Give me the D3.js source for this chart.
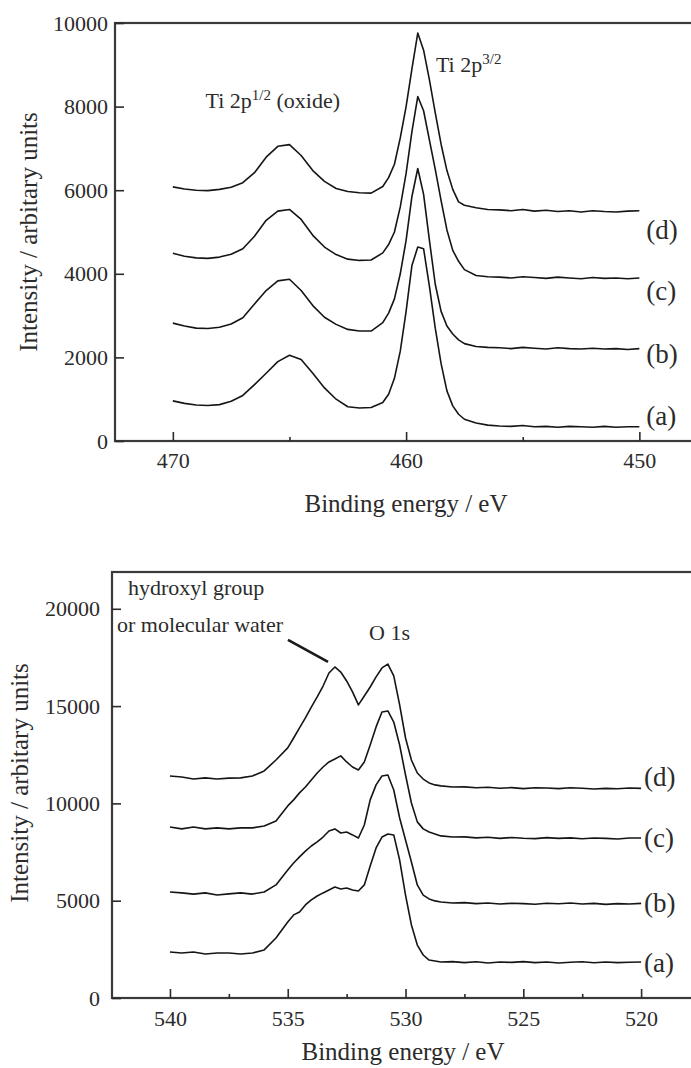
<!DOCTYPE html>
<html>
<head>
<meta charset="utf-8">
<script src="https://cdn.jsdelivr.net/npm/d3@7"></script>
<style>
  body { margin: 0; background: #fff; }
  svg text { font-family: "Liberation Serif", "Times New Roman", serif; fill: #2b2b2b; white-space: pre; }
</style>
</head>
<body>
<svg id="chart" width="691" height="1068"></svg>
<script>
// ---- Ti 2p spectra (top panel) ----
var tiEnergy = [470,469.5,469,468.5,468,467.5,467,466.5,466,465.5,465,464.5,464,463.5,463,462.5,462,461.5,461,
  460.75,460.5,460.25,460,459.75,459.5,459.25,459,458.75,458.5,458.25,458,457.75,457.5,
  457,456.5,456,455.5,455,454.5,454,453.5,453,452.5,452,451.5,451,450.5,450];
var tiA = [960,900,860,850,870,950,1090,1350,1620,1900,2050,1950,1620,1270,1000,820,790,800,920,
  1120,1500,2150,3100,4200,4640,4600,3700,2700,1850,1200,840,640,520,
  430,380,360,350,370,340,350,330,350,340,330,350,330,340,340];
var tiB = [2820,2750,2700,2690,2720,2800,2950,3280,3600,3830,3870,3600,3240,2960,2790,2670,2630,2630,2830,
  3060,3400,4000,4800,5850,6520,5900,4800,3750,3100,2750,2560,2420,2330,
  2260,2240,2230,2210,2240,2220,2200,2230,2210,2200,2220,2200,2210,2190,2210];
var tiC = [4490,4420,4380,4370,4400,4470,4600,4900,5280,5500,5540,5300,4920,4640,4460,4350,4320,4330,4500,
  4700,5000,5600,6400,7400,8240,7900,7200,6500,5750,5050,4560,4300,4100,
  3960,3930,3920,3900,3930,3910,3890,3920,3900,3880,3910,3890,3900,3880,3900];
var tiD = [6080,6030,6000,5990,6020,6070,6180,6420,6790,7050,7090,6830,6470,6210,6040,5970,5940,5930,6090,
  6300,6620,7250,8000,8900,9760,9350,8640,7850,7100,6470,6020,5720,5640,
  5580,5540,5530,5510,5540,5500,5520,5490,5510,5480,5510,5490,5480,5500,5510];
var tiLabelY = [620, 2100, 3610, 5050];
var tiTicksX = [470, 460, 450];
var tiMinorX = [465, 455];
var tiTicksY = [0, 2000, 4000, 6000, 8000, 10000];

// ---- O 1s spectra (bottom panel) ----
var oEnergy = [540,539.5,539,538.5,538,537.5,537,536.5,536,535.5,535,
  534.75,534.5,534.25,534,533.75,533.5,533.25,533,532.75,532.5,532.25,532,531.75,531.5,531.25,531,
  530.75,530.5,530.25,530,529.75,529.5,529.25,529,528.75,528.5,
  528,527.5,527,526.5,526,525.5,525,524.5,524,523.5,523,522.5,522,521.5,521,520.5,520];
var oA = [2360,2310,2360,2260,2310,2310,2260,2310,2470,3080,3910,
  4270,4420,4780,5040,5240,5400,5550,5700,5600,5650,5550,5500,5810,6780,7710,8270,8430,8380,7090,5290,3750,2720,2210,1950,1900,1850,
  1870,1820,1860,1800,1850,1830,1870,1820,1850,1800,1840,1860,1810,1850,1820,1840,1850];
var oB = [5450,5400,5340,5400,5290,5350,5400,5340,5450,5810,6580,
  6940,7250,7550,7810,8020,8270,8580,8690,8480,8530,8380,8220,8890,10180,10950,11410,11460,10690,9250,8120,6990,5810,5290,5090,4990,4930,
  4880,4900,4850,4880,4830,4870,4850,4820,4870,4840,4880,4830,4860,4810,4850,4830,4860];
var oC = [8790,8690,8790,8690,8740,8690,8740,8740,8840,9100,9870,
  10180,10540,10840,11200,11560,11870,12130,12280,12440,12130,11870,11720,12130,13000,13930,14700,14750,14180,13000,11460,10020,9050,8690,8530,8430,8330,
  8270,8280,8230,8260,8200,8250,8210,8190,8240,8200,8230,8180,8220,8200,8170,8220,8220];
var oD = [11410,11360,11250,11310,11250,11300,11310,11410,11670,12230,12850,
  13360,13880,14390,14950,15470,16030,16700,17010,16750,16290,15730,15060,15520,15980,16500,16960,17160,16550,15060,13360,12230,11560,11250,11050,10950,10900,
  10840,10850,10800,10830,10780,10810,10760,10800,10790,10760,10800,10780,10740,10770,10750,10790,10770];
var oLabelY = [1800, 4880, 8270, 11360];
var oTicksX = [540, 535, 530, 525, 520];
var oMinorX = [537.5, 532.5, 527.5, 522.5];
var oTicksY = [0, 5000, 10000, 15000, 20000];

var sampleNames = ["(a)", "(b)", "(c)", "(d)"];

var svg = d3.select("#chart");

function panel(opt) {
    var x = d3.scaleLinear().domain(opt.xDomain).range([opt.left, opt.right]);
    var y = d3.scaleLinear().domain(opt.yDomain).range([opt.bottom, opt.top]);
    var g = svg.append("g");

    // curves
    var line = d3.line()
        .x(function (d) { return x(d[0]); })
        .y(function (d) { return y(d[1]); });

    opt.series.forEach(function (s) {
        var pts = opt.energy.map(function (e, i) { return [e, s[i]]; });
        g.append("path")
            .datum(pts)
            .attr("d", line)
            .style("fill", "none")
            .style("stroke", "#151515")
            .style("stroke-width", 1.6)
            .style("stroke-linejoin", "round");
    });

    // frame
    g.append("rect")
        .attr("x", opt.left)
        .attr("y", opt.top)
        .attr("width", opt.right - opt.left)
        .attr("height", opt.bottom - opt.top)
        .style("fill", "none")
        .style("stroke", "#3a3a3a")
        .style("stroke-width", 2.2);

    function styleAxis(sel, size) {
        sel.select(".domain").remove();
        sel.attr("font-family", "Liberation Serif, Times New Roman, serif").attr("font-size", size);
        sel.selectAll("line").style("stroke", "#2b2b2b").style("stroke-width", 1.6);
        sel.selectAll("text").attr("fill", "#2b2b2b");
    }

    var gx = g.append("g")
        .attr("transform", "translate(0," + opt.bottom + ")")
        .call(d3.axisBottom(x).tickValues(opt.xTicks).tickSizeInner(-9).tickSizeOuter(0)
            .tickPadding(opt.xPad).tickFormat(d3.format("d")));
    styleAxis(gx, 22);

    var gxm = g.append("g")
        .attr("transform", "translate(0," + opt.bottom + ")")
        .call(d3.axisBottom(x).tickValues(opt.xMinor).tickSizeInner(-4).tickSizeOuter(0).tickFormat(""));
    styleAxis(gxm, 22);

    var gy = g.append("g")
        .attr("transform", "translate(" + opt.left + ",0)")
        .call(d3.axisLeft(y).tickValues(opt.yTicks).tickSizeInner(-9).tickSizeOuter(0)
            .tickPadding(opt.yPad).tickFormat(d3.format("d")));
    styleAxis(gy, 22);

    // axis titles
    g.append("text")
        .attr("x", opt.xTitle[0])
        .attr("y", opt.xTitle[1])
        .attr("text-anchor", "middle")
        .style("font-size", "25px")
        .text("Binding energy / eV");

    g.append("text")
        .attr("transform", "translate(" + opt.yTitle[0] + "," + opt.yTitle[1] + ") rotate(-90)")
        .attr("text-anchor", "middle")
        .style("font-size", "25px")
        .text("Intensity / arbitary units");

    // sample labels
    sampleNames.forEach(function (name, i) {
        g.append("text")
            .attr("x", x(opt.labelX))
            .attr("y", y(opt.labelY[i]))
            .attr("dy", "0.35em")
            .style("font-size", "27px")
            .text(name);
    });

    return { g: g, x: x, y: y };
}

// ---- top panel ----
var tiPanel = panel({
    xDomain: [472.48, 447.4], yDomain: [0, 10000],
    left: 115, right: 700, top: 23, bottom: 441,
    energy: tiEnergy, series: [tiA, tiB, tiC, tiD],
    xTicks: tiTicksX, xMinor: tiMinorX, yTicks: tiTicksY,
    xPad: 11, yPad: 7,
    labelX: 449.7, labelY: tiLabelY,
    xTitle: [406, 512], yTitle: [37, 232]
});

function supLabel(p, e, v, base, sup, rest) {
    var t = p.g.append("text")
        .attr("x", p.x(e))
        .attr("y", p.y(v))
        .style("font-size", "22px");
    t.append("tspan").text(base);
    t.append("tspan").attr("dy", -8).style("font-size", "15px").text(sup);
    if (rest) t.append("tspan").attr("dy", 8).text(rest);
}

supLabel(tiPanel, 468.6, 7970, "Ti 2p", "1/2", " (oxide)");
supLabel(tiPanel, 458.72, 8830, "Ti 2p", "3/2", null);

// ---- bottom panel ----
var oPanel = panel({
    xDomain: [542.46, 517.5], yDomain: [0, 21890],
    left: 112, right: 700, top: 572, bottom: 998,
    energy: oEnergy, series: [oA, oB, oC, oD],
    xTicks: oTicksX, xMinor: oMinorX, yTicks: oTicksY,
    xPad: 12, yPad: 12,
    labelX: 519.88, labelY: oLabelY,
    xTitle: [403, 1060], yTitle: [28, 783]
});

oPanel.g.append("text")
    .attr("x", oPanel.x(541.78)).attr("y", oPanel.y(20710))
    .style("font-size", "22px")
    .text("hydroxyl group");
oPanel.g.append("text")
    .attr("x", oPanel.x(542.25)).attr("y", oPanel.y(18810))
    .style("font-size", "22px")
    .text("or molecular water");
oPanel.g.append("text")
    .attr("x", oPanel.x(531.55)).attr("y", oPanel.y(18400))
    .style("font-size", "22px")
    .text("O 1s");

// pointer to the hydroxyl shoulder
oPanel.g.append("line")
    .attr("x1", oPanel.x(534.99)).attr("y1", oPanel.y(18400))
    .attr("x2", oPanel.x(533.29)).attr("y2", oPanel.y(17270))
    .style("stroke", "#1a1a1a")
    .style("stroke-width", 2.6);
</script>
</body>
</html>
